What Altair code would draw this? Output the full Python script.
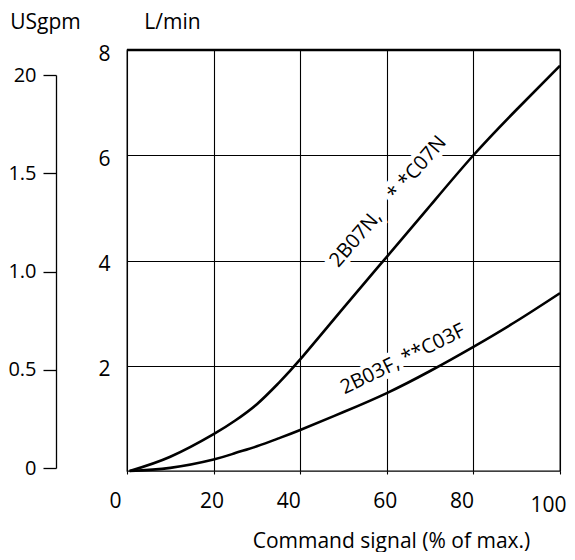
import altair as alt
import pandas as pd

# ---- data ----
cmd = [0.6, 10, 20, 25, 30, 35, 40, 50, 60, 70, 80, 90, 100]
flow_07n = [0.0, 0.27, 0.70, 0.96, 1.27, 1.67, 2.12, 3.1, 4.07, 5.04, 6.0, 6.87, 7.7]
flow_03f = [0.0, 0.06, 0.22, 0.34, 0.47, 0.62, 0.78, 1.12, 1.48, 1.9, 2.36, 2.85, 3.38]

x_ticks = [0, 20, 40, 60, 80, 100]
lmin_ticks = [2, 4, 6, 8]
lmin_top = [8]
usgpm_ticks = [0, 0.5, 1.0, 1.5, 2.0]
usgpm_labels = ["0", "0.5", "1.0", "1.5", "20"]

label_text = ["2B07N,\u00a0\u00a0\u00a0\u00a0* *C07N", "2B03F, **C03F"]
label_x = [60.3, 63.7]
label_y = [5.12, 2.12]
label_angle = [311, 334]

FONT = "Open Sans"

curves = pd.DataFrame(
    {"cmd": cmd * 2,
     "flow": flow_07n + flow_03f,
     "series": ["07N"] * len(cmd) + ["03F"] * len(cmd)}
)
labels = pd.DataFrame({"cmd": label_x, "flow": label_y,
                       "ang": label_angle, "txt": label_text})
top = pd.DataFrame({"flow": lmin_top})
us = pd.DataFrame({"usgpm": usgpm_ticks, "lab": usgpm_labels})

xscale = alt.Scale(domain=[0, 100], nice=False)
yscale = alt.Scale(domain=[0, 8], nice=False)

lab_map = "{" + ",".join(f"'{v:g}':'{l}'" for v, l in zip(usgpm_ticks, usgpm_labels)) + "}"

x_axis = alt.Axis(
    values=x_ticks, grid=True, gridColor="black", gridWidth=1.1, gridOpacity=1,
    domain=False, ticks=True, tickSize=3, tickColor="black", tickWidth=1.1,
    labelFont=FONT, labelFontSize=21, labelColor="black", labelFlush=False,
    labelOffset={"condition": {"test": "datum.value == 0 || datum.value == 40 || datum.value == 80 || datum.value == 100", "value": -12}, "value": -2},
    labelPadding={"condition": {"test": "datum.value == 100", "value": 20}, "value": 16},
    title="Command signal (% of max.)", titleFont=FONT, titleFontSize=21,
    titleFontWeight="normal", titleColor="black",
    titleX=264, titleY=76, titleBaseline="alphabetic", titleAlign="center",
)
y_axis = alt.Axis(
    values=lmin_ticks, grid=True, gridColor="black", gridWidth=1.1, gridOpacity=1,
    domain=False, ticks=False, labelFont=FONT, labelFontSize=21, labelColor="black",
    labelPadding=17, labelOffset=4, labelFlush=False,
    title="L/min", titleFont=FONT, titleFontSize=21, titleFontWeight="normal",
    titleColor="black", titleAngle=0, titleX=45, titleY=-22,
    titleAlign="center", titleBaseline="alphabetic",
)

X = alt.X("cmd:Q", scale=xscale, axis=x_axis)
Y = alt.Y("flow:Q", scale=yscale, axis=y_axis)

lines = alt.Chart(curves).mark_line(
    color="black", strokeWidth=2.6, interpolate="natural"
).encode(x=X, y=Y, detail="series:N")

halo = alt.Chart(labels).mark_text(
    font=FONT, fontSize=20, align="center", baseline="middle",
    color="white", stroke="white", strokeWidth=9,
).encode(x=X, y=Y, angle=alt.Angle("ang:Q", scale=None), text="txt:N")

text = alt.Chart(labels).mark_text(
    font=FONT, fontSize=20, align="center", baseline="middle", color="black",
).encode(x=X, y=Y, angle=alt.Angle("ang:Q", scale=None), text="txt:N")

top_rule = alt.Chart(top).mark_rule(color="black", strokeWidth=2.4).encode(y=Y)

main = alt.layer(halo, lines, text, top_rule)

us_axis = alt.Chart(us).mark_point(opacity=0).encode(
    y=alt.Y(
        "usgpm:Q",
        scale=alt.Scale(domain=[0, 2], range=[418, 25], nice=False),
        axis=alt.Axis(
            orient="left", offset=71, values=usgpm_ticks,
            labelExpr=f"{lab_map}[datum.value] || datum.label",
            grid=False, domain=True, domainColor="black", domainWidth=1.3,
            ticks=True, tickSize=13, tickColor="black", tickWidth=1.3,
            labelFont=FONT, labelFontSize=20, labelColor="black", labelPadding=7,
            labelFlush=False,
            title="USgpm", titleFont=FONT, titleFontSize=21, titleFontWeight="normal",
            titleColor="black", titleAngle=0, titleX=-11, titleY=-22,
            titleAlign="center", titleBaseline="alphabetic",
        ),
    )
)

chart = alt.layer(main, us_axis).resolve_scale(y="independent").properties(
    width=433, height=421,
    autosize=alt.AutoSizeParams(type="none"),
    padding={"left": 119, "top": 42, "right": 7, "bottom": 81},
    background="white",
).configure_view(stroke="black", strokeWidth=1.3)

chart.save("out.html", embed_options={"renderer": "svg", "actions": False})
